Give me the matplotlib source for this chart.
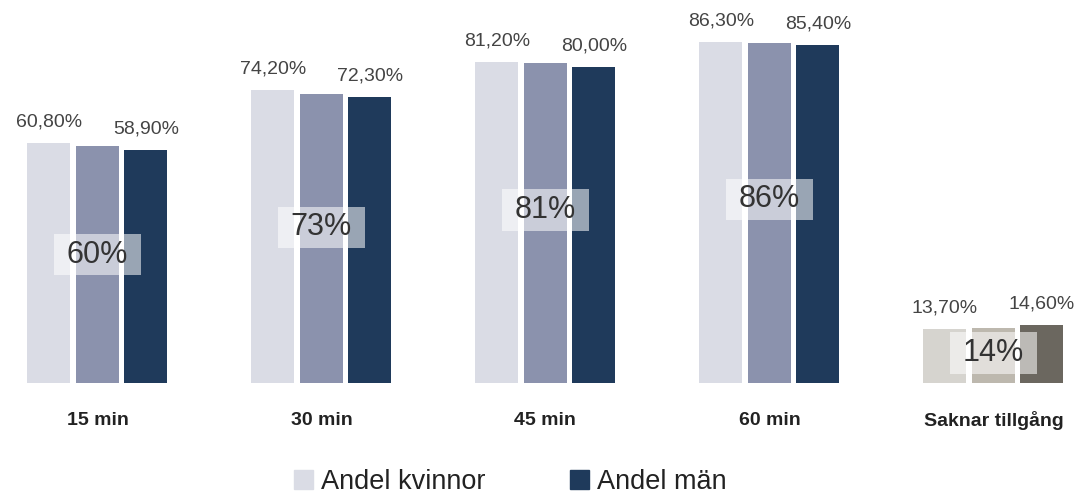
import matplotlib.pyplot as plt
from matplotlib.patches import Patch, Rectangle

plt.rcParams['font.family'] = ['Liberation Sans', 'DejaVu Sans']

categories = ['15 min', '30 min', '45 min', '60 min', 'Saknar tillgång']
women = [60.8, 74.2, 81.2, 86.3, 13.7]
total = [60, 73, 81, 86, 14]
men = [58.9, 72.3, 80.0, 85.4, 14.6]
women_labels = ['60,80%', '74,20%', '81,20%', '86,30%', '13,70%']
men_labels = ['58,90%', '72,30%', '80,00%', '85,40%', '14,60%']
total_labels = ['60%', '73%', '81%', '86%', '14%']

blue = ['#dadce5', '#8b92ad', '#1f3a5b']
grey = ['#d6d4cf', '#bdb8ae', '#6b675f']

fig = plt.figure(figsize=(10.79, 4.97), dpi=100)
ax = fig.add_axes([0, 0, 1, 1])
ax.set_xlim(-0.435, 4.382)
ax.set_ylim(-28.9, 96.9)
ax.axis('off')

w = 0.192
off = 0.2165
# white see-through box behind the total value (size in data units)
box_w = 0.39
box_h = 10.4
for i in range(len(categories)):
    cols = grey if i == len(categories) - 1 else blue
    ax.bar(i - off, women[i], w, color=cols[0])
    ax.bar(i, total[i], w, color=cols[1])
    ax.bar(i + off, men[i], w, color=cols[2])
    ax.text(i - off, women[i] + 5.3, women_labels[i], ha='center', va='center',
            fontsize=14, color='#444444')
    ax.text(i + off, men[i] + 5.3, men_labels[i], ha='center', va='center',
            fontsize=14, color='#444444')
    ym = total[i] * 0.54
    ax.add_patch(Rectangle((i - box_w / 2, ym - box_h / 2), box_w, box_h,
                           fc='white', ec='none', alpha=0.55, zorder=3))
    ax.text(i, ym, total_labels[i], ha='center', va='center', fontsize=22,
            color='#333333', zorder=4)
    ax.text(i, -9.5, categories[i], ha='center', va='center', fontsize=14,
            fontweight='bold', color='#222222')

handles = [Patch(color=blue[0], label='Andel kvinnor'),
           Patch(color=blue[2], label='Andel män')]
fig.legend(handles=handles, loc='center', bbox_to_anchor=(0.473, 0.03), ncol=2,
           frameon=False, fontsize=19.5, handlelength=0.7, handleheight=0.7,
           handletextpad=0.3, columnspacing=3.1, labelcolor='#222222')

fig.savefig('out.png', dpi=100)
